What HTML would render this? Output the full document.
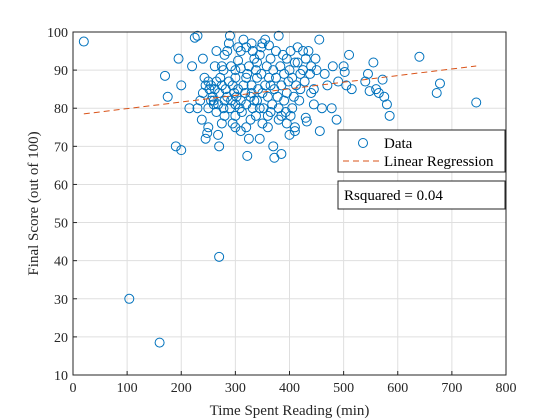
<!DOCTYPE html>
<html><head><meta charset="utf-8"><style>
body{margin:0;background:#fff}
svg{display:block;font-family:"Liberation Serif",serif}
</style></head><body>
<svg id="chart" width="560" height="420" xmlns="http://www.w3.org/2000/svg">
<rect width="560" height="420" fill="#fff"/>
<g id="grid"></g>
<g id="marks"></g>
<g id="fit"></g>
<rect x="73" y="32" width="433" height="343" fill="none" stroke="#262626" stroke-width="1"/>
<g id="ticks" font-size="14" fill="#262626"></g>
<text x="289.5" y="415" text-anchor="middle" font-size="15" fill="#262626">Time Spent Reading (min)</text>
<text transform="translate(38,203.5) rotate(-90)" text-anchor="middle" font-size="15" fill="#262626">Final Score (out of 100)</text>
<g>
<rect x="338" y="130" width="167" height="42" fill="#fff" stroke="#262626"/>
<circle cx="363" cy="143" r="4.5" fill="none" stroke="#0072BD"/>
<text x="384" y="148" font-size="15" fill="#000">Data</text>
<line x1="343" y1="161" x2="381" y2="161" stroke="#D95319" stroke-dasharray="6,4"/>
<text x="384" y="166" font-size="15" fill="#000">Linear Regression</text>
</g>
<g>
<rect x="338" y="181" width="167" height="28" fill="#fff" stroke="#262626"/>
<text x="344" y="200" font-size="15" fill="#000">Rsquared = 0.04</text>
</g>
</svg>
<script>
const xTicks=[0,100,200,300,400,500,600,700,800];
const yTicks=[10,20,30,40,50,60,70,80,90,100];
const readX=[20,104,160,270,190,200,175,170,195,200,215,220,225,230,240,245,248,250,250,255,260,262,268,275,278,280,290,295,300,300,305,310,315,320,322,325,330,335,340,345,348,350,355,360,362,365,370,372,375,380,385,390,395,400,402,405,410,410,415,420,425,430,432,440,445,450,455,456,460,465,470,478,480,487,490,500,502,505,510,515,540,545,548,555,560,565,575,572,580,585,640,672,678,745,
240,245,250,252,255,258,260,265,268,270,272,275,278,280,282,285,288,290,292,295,298,300,302,305,308,310,312,315,318,320,322,325,328,330,332,335,338,340,342,345,348,350,352,355,358,360,362,365,368,370,372,375,378,380,383,385,388,390,393,395,398,400,402,405,408,410,412,415,418,420,425,428,430,435,438,440,445,448,230,235,238,243,262,265,285,288,292,305,310,330,332,340,270,280,300,310,320,328,338,350,360,380,395,265,275,300,320,345,365,385];
const score=[97.5,30,18.5,41,70,69,83,88.5,93,86,80,91,98.5,99,93,72,73.5,75,80,82,82,85,73,76,90,94,99,76,78,88,92.5,90.5,98,96,67.5,72,84,82,88,72,96,97,98,78,96.5,86,70,67,95,99,68,82,93,73,78,88,75,74,92,89,95,77.5,76.5,84,81,90,98,74,80,89,86,80,91,77,87,91,89.5,86,94,85,87,89,84.5,92,85,84,83,87.5,81,78,93.5,84,86.5,81.5,
84,86,87,85,86,83,81,79,81,84,88,91,80,82,85,83,87,80,82,86,84,81,83,85,80,82,79,86,84,81,89,91,83,86,80,93,90,82,85,94,89,84,80,86,91,83,88,93,81,90,85,88,83,80,91,86,94,89,79,84,87,90,95,80,83,92,86,96,82,85,90,87,93,95,89,91,85,93,80,82,77,88,91,95,95,97,91,96,95,97,95,92,70,78,75,74,75,77,78,76,75,77,76,87,86,90,88,80,79,78];
const NS="http://www.w3.org/2000/svg";
const X0=73,X1=506,Y0=375,Y1=32;
const sx=v=>X0+(v-0)/(800-0)*(X1-X0);
const sy=v=>Y0-(v-10)/(100-10)*(Y0-Y1);
function mk(tag,attrs,parent){const e=document.createElementNS(NS,tag);for(const k in attrs)e.setAttribute(k,attrs[k]);parent.appendChild(e);return e;}
const grid=document.getElementById('grid'),ticks=document.getElementById('ticks');
xTicks.forEach(t=>{
 const g=mk('line',{x1:sx(t),x2:sx(t),y1:Y1,y2:Y0,stroke:'#dfdfdf'},grid);
 
 
 mk('line',{x1:sx(t),x2:sx(t),y1:Y0,y2:Y0-4,stroke:'#262626'},ticks);
 const tx=mk('text',{x:sx(t),y:Y0+17,'text-anchor':'middle'},ticks);tx.textContent=t;
 
 
});
yTicks.forEach(t=>{
 const g=mk('line',{x1:X0,x2:X1,y1:sy(t),y2:sy(t),stroke:'#dfdfdf'},grid);
 
 
 mk('line',{x1:X0,x2:X0+4,y1:sy(t),y2:sy(t),stroke:'#262626'},ticks);
 const tx=mk('text',{x:X0-5,y:sy(t)+5,'text-anchor':'end'},ticks);tx.textContent=t;
 
 
});
const marks=document.getElementById('marks');
for(let i=0;i<readX.length;i++){
 const c=mk('circle',{cx:sx(readX[i]),cy:sy(score[i]),r:4.5,fill:'none',stroke:'#0072BD','stroke-width':1},marks);
 
 
}
// least squares fit
const n=readX.length;let mx=0,my=0;for(let i=0;i<n;i++){mx+=readX[i];my+=score[i];}mx/=n;my/=n;
let sxy=0,sxx=0;for(let i=0;i<n;i++){sxy+=(readX[i]-mx)*(score[i]-my);sxx+=(readX[i]-mx)**2;}
const b=sxy/sxx,a=my-b*mx;
const xmin=Math.min(...readX),xmax=Math.max(...readX);
const fl=mk('line',{x1:sx(xmin),y1:sy(a+b*xmin),x2:sx(xmax),y2:sy(a+b*xmax),stroke:'#D95319','stroke-width':1,'stroke-dasharray':'6,4'},document.getElementById('fit'));


</script>
</body></html>
